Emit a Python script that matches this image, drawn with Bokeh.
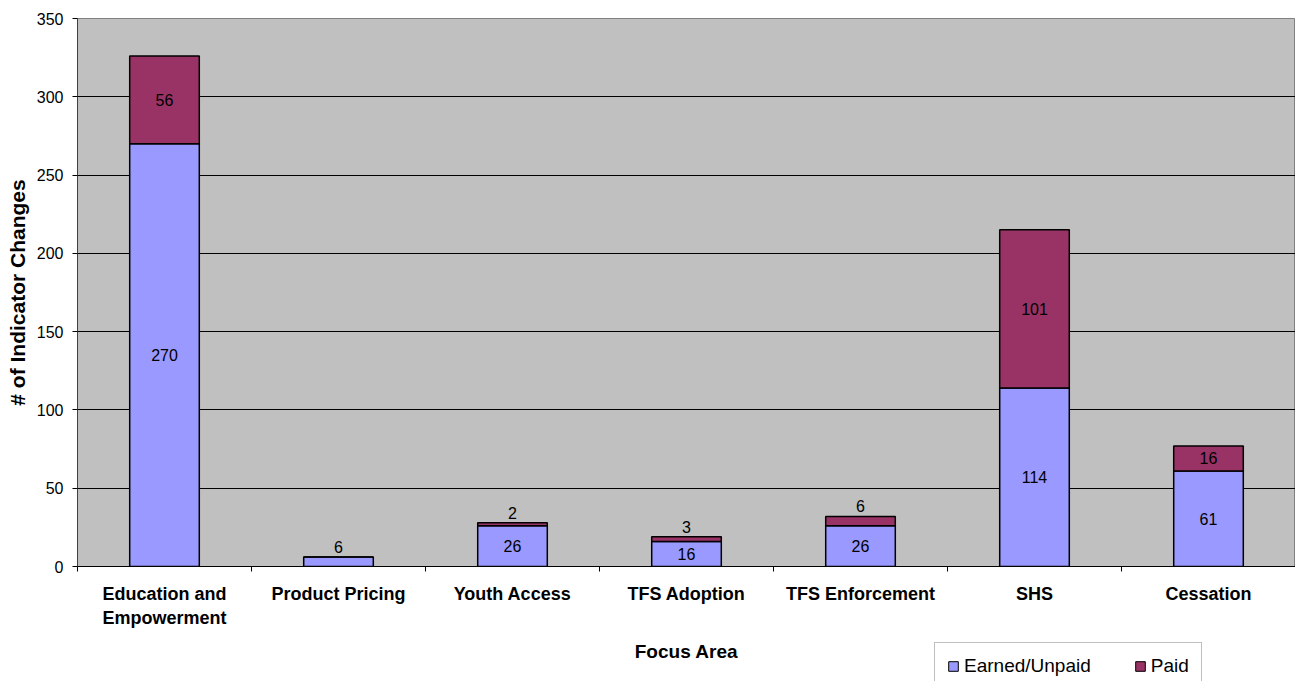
import numpy as np
from bokeh.plotting import figure
from bokeh.layouts import column
from bokeh.models import Range1d, FixedTicker, ColumnDataSource, Legend, LegendItem
from bokeh.core.properties import value
from bokeh.embed import file_html
from bokeh.resources import INLINE

# Focus areas and indicator changes per funding type
categories = ["Education and\nEmpowerment", "Product Pricing", "Youth Access",
              "TFS Adoption", "TFS Enforcement", "SHS", "Cessation"]
earned = [270, 6, 26, 16, 26, 114, 61]
paid = [56, 0, 2, 3, 6, 101, 16]
y_ticks = [0, 50, 100, 150, 200, 250, 300, 350]

FONT = "Liberation Sans"
EARNED_COLOR = "#9999FF"
PAID_COLOR = "#993366"

W = 1295
LEFT, TOP = 77, 18
CHART_H = 638            # main chart (frame + category labels)
FOOT_H = 681 - CHART_H   # footer strip: axis title and legend
FRAME_BOTTOM = 566

n = len(categories)
xs = np.arange(n) + 0.5
earned_a = np.array(earned, dtype=float)
paid_a = np.array(paid, dtype=float)
total = earned_a + paid_a

x_range = Range1d(0, n)
p = figure(width=W, height=CHART_H, x_range=x_range, y_range=Range1d(0, 350),
           output_backend="svg", toolbar_location=None, title=None,
           min_border_left=LEFT, min_border_right=0, min_border_top=TOP,
           min_border_bottom=CHART_H - FRAME_BOTTOM)

p.background_fill_color = "#C0C0C0"
p.border_fill_color = "white"
p.outline_line_color = "#808080"
p.outline_line_width = 1

# stacked bars
src = ColumnDataSource(dict(x=xs, earned=earned_a, paid=paid_a, total=total))
p.vbar(x="x", width=0.4, bottom=0, top="earned", source=src,
       fill_color=EARNED_COLOR, line_color="black", line_width=1.5)
p.vbar(x="x", width=0.4, bottom="earned", top="total", source=src,
       fill_color=PAID_COLOR, line_color="black", line_width=1.5)

# value labels: centred in the segment, or above the stack when the segment is thin
in_x, in_y, in_t, up_x, up_y, up_t = [], [], [], [], [], []
for i in range(n):
    for lo, v in ((0.0, earned_a[i]), (earned_a[i], paid_a[i])):
        if v <= 0:
            continue
        if v >= 10:
            in_x.append(xs[i]); in_y.append(lo + v / 2); in_t.append(str(int(v)))
        else:
            up_x.append(xs[i]); up_y.append(total[i]); up_t.append(str(int(v)))

p.text(x=in_x, y=in_y, text=in_t, text_font=value(FONT), text_font_size="16px",
       text_align="center", text_baseline="middle", text_color="black")
p.text(x=up_x, y=up_y, text=up_t, text_font=value(FONT), text_font_size="16px",
       text_align="center", text_baseline="bottom", y_offset=-4, text_color="black")

# x axis: labels at category centres, tick marks at the boundaries
xa = p.xaxis[0]
xa.ticker = FixedTicker(ticks=list(xs), minor_ticks=list(range(n + 1)))
xa.major_label_overrides = {float(x): c for x, c in zip(xs, categories)}
xa.major_tick_out = 0
xa.major_tick_in = 0
xa.minor_tick_out = 5
xa.minor_tick_in = 0
xa.minor_tick_line_color = "black"
xa.axis_line_color = "black"
xa.major_label_text_font = FONT
xa.major_label_text_font_size = "18px"
xa.major_label_text_font_style = "bold"
xa.major_label_text_color = "black"
xa.major_label_standoff = 12

ya = p.yaxis[0]
ya.ticker = FixedTicker(ticks=y_ticks)
ya.major_tick_out = 5
ya.major_tick_in = 0
ya.minor_tick_out = 0
ya.minor_tick_in = 0
ya.axis_line_color = "#404040"
ya.major_tick_line_color = "black"
ya.major_label_text_font = FONT
ya.major_label_text_font_size = "16px"
ya.major_label_text_color = "black"
ya.major_label_standoff = 9
ya.axis_label = "# of Indicator Changes"
ya.axis_label_text_font = FONT
ya.axis_label_text_font_size = "21px"
ya.axis_label_text_font_style = "bold"
ya.axis_label_text_color = "black"
ya.axis_label_standoff = 5

p.xgrid.visible = False
p.ygrid.ticker = FixedTicker(ticks=y_ticks)
p.ygrid.grid_line_color = "black"
p.ygrid.grid_line_width = 1

# footer strip (frame aligned with the chart above): x-axis title and legend
f = figure(width=W, height=FOOT_H, x_range=x_range, y_range=Range1d(0, FOOT_H),
           output_backend="svg", toolbar_location=None, title=None,
           x_axis_type=None, y_axis_type=None,
           min_border_left=LEFT, min_border_right=0, min_border_top=0, min_border_bottom=0)
f.grid.visible = False
f.outline_line_color = None
f.background_fill_color = "white"
f.border_fill_color = "white"

f.text(x=[n / 2], y=[FOOT_H - 13], text=["Focus Area"], text_font=value(FONT),
       text_font_size="19px", text_font_style="bold", text_color="black",
       text_align="center", text_baseline="middle")

# legend swatches (renderers with no visible data)
k_earned = f.vbar(x=[np.nan], top=[np.nan], width=0.4, fill_color=EARNED_COLOR,
                  line_color="black", line_width=1)
k_paid = f.vbar(x=[np.nan], top=[np.nan], width=0.4, fill_color=PAID_COLOR,
                line_color="black", line_width=1)

legend = Legend(items=[LegendItem(label="Earned/Unpaid", renderers=[k_earned]),
                       LegendItem(label="Paid", renderers=[k_paid])],
                orientation="horizontal", location=(857, -9),
                padding=12, spacing=43, margin=0,
                glyph_width=12, glyph_height=12, label_standoff=5,
                label_text_font=FONT, label_text_font_size="19px", label_text_color="black",
                border_line_color="#808080", border_line_width=1,
                background_fill_color="white", background_fill_alpha=1)
f.add_layout(legend, "center")

layout = column(p, f, spacing=0)
open("out.html", "w").write(file_html(layout, INLINE))
